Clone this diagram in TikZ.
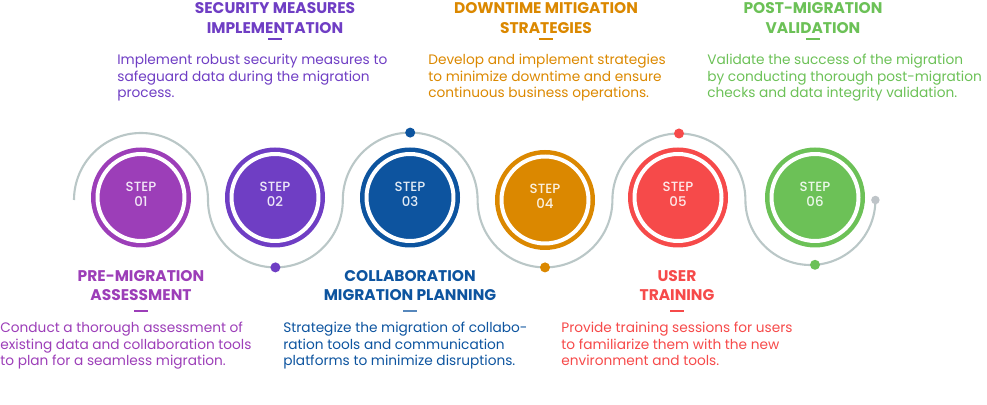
\documentclass[tikz,border=0pt]{standalone}
\usepackage{fontspec}
\setmainfont{Poppins}
\newfontfamily\stepfont{Poppins Medium}
\usepackage{xcolor}
\definecolor{stepviolet}{RGB}{156,62,184}
\definecolor{stepindigo}{RGB}{111,62,196}
\definecolor{stepblue}{RGB}{13,84,159}
\definecolor{steporange}{RGB}{219,136,0}
\definecolor{stepred}{RGB}{246,74,74}
\definecolor{stepgreen}{RGB}{108,193,87}
\definecolor{trackgrey}{RGB}{186,199,199}
\definecolor{enddot}{RGB}{190,196,200}

\begin{document}
\begin{tikzpicture}[x=0.02cm,y=0.02cm,
  stepdisc/.style={circle,minimum size=1.74cm,inner sep=0pt,
    line width=0.09cm,double=white,double distance=0.08cm},
  steplabel/.style={align=center,inner sep=0pt,
    font=\fontsize{7.6}{8.6}\selectfont\stepfont},
  trackdot/.style={circle,minimum size=0.2cm,inner sep=0pt},
  headtext/.style={anchor=base,align=center,inner sep=0pt,
    font=\fontsize{8.8}{11.2}\selectfont\bfseries},
  bodytext/.style={anchor=base west,align=left,inner sep=0pt,
    font=\fontsize{7.8}{9.6}\selectfont}]

  \useasboundingbox (0,0) rectangle (987,405);

  % ── GREY TRACK ─────────────────────────────────────────────────────────────
  \draw[trackgrey,line width=1.2pt]
    (74,205) arc[start angle=180,end angle=0,radius=67]
    arc[start angle=180,end angle=360,radius=67.4]
    arc[start angle=180,end angle=0,radius=67.4]
    arc[start angle=180,end angle=360,radius=67.4]
    arc[start angle=180,end angle=0,radius=66.5]
    arc[start angle=180,end angle=360,radius=65];

  % ── TRACK DOTS ─────────────────────────────────────────────────────────────
  \node[trackdot,fill=stepindigo] (dot2) at (275.4,137.6) {};
  \node[trackdot,fill=stepblue]   (dot3) at (410.2,272.4) {};
  \node[trackdot,fill=steporange] (dot4) at (545,137.6) {};
  \node[trackdot,fill=stepred]    (dot5) at (679,271.5) {};
  \node[trackdot,fill=stepgreen]  (dot6) at (815,140.2) {};
  \node[trackdot,fill=enddot,minimum size=0.17cm] (dotend) at (875.4,205) {};

  % ── STEP DISCS ─────────────────────────────────────────────────────────────
  \foreach \i/\x/\y/\c in {1/141/207.5/stepviolet,2/275/207.5/stepindigo,
      3/410/207.5/stepblue,4/545/205/steporange,
      5/678/207.5/stepred,6/815/207.5/stepgreen}{
    \node[stepdisc,fill=\c,draw=\c] (step\i) at (\x,\y) {};
    \node[steplabel,text=white!88!\c] (lab\i) at ([yshift=0.07cm]step\i.center)
      {STEP\\0\i};
  }

  % ── TOP LABELS ─────────────────────────────────────────────────────────────
  \node[headtext,text=stepindigo] (title2) at (275,371.5)
    {SECURITY MEASURES\\IMPLEMENTATION};
  \fill[stepindigo] (268,364.5) rectangle (282,366.5);
  \node[bodytext,text=stepindigo] (desc2) at (117,307) {%
Implement robust security measures to\\
safeguard data during the migration\\
process.};

  \node[headtext,text=steporange] (title4) at (546,371.5)
    {DOWNTIME MITIGATION\\STRATEGIES};
  \fill[steporange] (539,364.5) rectangle (553,366.5);
  \node[bodytext,text=steporange] (desc4) at (428,307) {%
Develop and implement strategies\\
to minimize downtime and ensure\\
continuous business operations.};

  \node[headtext,text=stepgreen] (title6) at (813,371.5)
    {POST-MIGRATION\\VALIDATION};
  \fill[stepgreen] (806,364.5) rectangle (820,366.5);
  \node[bodytext,text=stepgreen] (desc6) at (707,307) {%
Validate the success of the migration\\
by conducting thorough post-migration\\
checks and data integrity validation.};

  % ── BOTTOM LABELS ──────────────────────────────────────────────────────────
  \node[headtext,text=stepviolet] (title1) at (141,104)
    {PRE-MIGRATION\\ASSESSMENT};
  \fill[stepviolet] (134,93.3) rectangle (148,95.3);
  \node[bodytext,text=stepviolet] (desc1) at (0,39) {%
Conduct a thorough assessment of\\
existing data and collaboration tools\\
to plan for a seamless migration.};

  \node[headtext,text=stepblue] (title3) at (410,104)
    {COLLABORATION\\MIGRATION PLANNING};
  \fill[stepblue!70!white] (403,93.3) rectangle (417,95.3);
  \node[bodytext,text=stepblue] (desc3) at (283,39) {%
Strategize the migration of collabo-\\
ration tools and communication\\
platforms to minimize disruptions.};

  \node[headtext,text=stepred] (title5) at (677,104)
    {USER\\TRAINING};
  \fill[stepred] (670,93.3) rectangle (684,95.3);
  \node[bodytext,text=stepred] (desc5) at (561,39) {%
Provide training sessions for users\\
to familiarize them with the new\\
environment and tools.};

\end{tikzpicture}
\end{document}
